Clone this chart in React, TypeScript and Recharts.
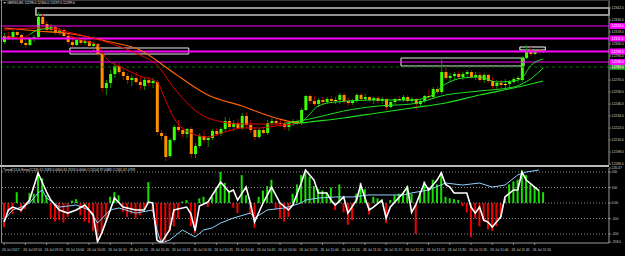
import { ComposedChart, Bar, Line, XAxis, YAxis, ReferenceLine, ReferenceArea } from 'recharts';

const symbol = 'GER30,M1';
const SLOTS = 143; // bars plus the empty shift on the right

// one entry per minute bar: [open, high, low, close]
const candles: number[][] = [
  [12308, 12317, 12306, 12314], [12314, 12318, 12310, 12312], [12312, 12320, 12310, 12318], [12318, 12320, 12312, 12315],
  [12315, 12316, 12305, 12307], [12307, 12312, 12302, 12305], [12305, 12313, 12304, 12311], [12311, 12315, 12308, 12313],
  [12313, 12338, 12312, 12333], [12333, 12336, 12323, 12326], [12326, 12329, 12318, 12320], [12320, 12326, 12318, 12323],
  [12323, 12325, 12315, 12317], [12317, 12322, 12315, 12320], [12320, 12322, 12312, 12314], [12314, 12317, 12306, 12308],
  [12308, 12314, 12303, 12305], [12305, 12312, 12304, 12310], [12310, 12312, 12305, 12307], [12307, 12311, 12305, 12309],
  [12309, 12310, 12302, 12304], [12304, 12308, 12298, 12306], [12306, 12307, 12294, 12296], [12296, 12298, 12258, 12262],
  [12262, 12270, 12255, 12267], [12267, 12280, 12262, 12276], [12276, 12288, 12272, 12284], [12284, 12287, 12275, 12278],
  [12278, 12282, 12270, 12274], [12274, 12277, 12266, 12270], [12270, 12275, 12264, 12272], [12272, 12278, 12266, 12268],
  [12268, 12274, 12260, 12265], [12264, 12272, 12260, 12270], [12270, 12273, 12264, 12267], [12267, 12272, 12262, 12269],
  [12268, 12270, 12215, 12218], [12217, 12220, 12210, 12214], [12214, 12217, 12189, 12193], [12194, 12212, 12192, 12210],
  [12210, 12225, 12208, 12223], [12223, 12230, 12218, 12220], [12220, 12223, 12212, 12216], [12216, 12222, 12212, 12221],
  [12221, 12223, 12192, 12196], [12196, 12207, 12192, 12204], [12204, 12217, 12202, 12214], [12214, 12220, 12207, 12210],
  [12210, 12214, 12203, 12212], [12212, 12221, 12210, 12219], [12219, 12222, 12214, 12216], [12216, 12223, 12214, 12221],
  [12221, 12233, 12219, 12229], [12229, 12232, 12220, 12223], [12223, 12230, 12219, 12227], [12227, 12231, 12220, 12222],
  [12222, 12237, 12220, 12234], [12234, 12237, 12222, 12225], [12225, 12230, 12217, 12220], [12220, 12223, 12210, 12213],
  [12213, 12222, 12211, 12220], [12220, 12223, 12215, 12217], [12217, 12230, 12215, 12227], [12227, 12232, 12223, 12229],
  [12229, 12231, 12224, 12227], [12227, 12230, 12223, 12226], [12226, 12229, 12220, 12223], [12223, 12229, 12219, 12227],
  [12227, 12231, 12224, 12229], [12229, 12231, 12225, 12227], [12227, 12242, 12225, 12240], [12240, 12255, 12239, 12254],
  [12254, 12256, 12246, 12249], [12249, 12254, 12244, 12246], [12246, 12252, 12243, 12250], [12250, 12253, 12245, 12248],
  [12248, 12253, 12246, 12251], [12251, 12254, 12247, 12249], [12249, 12253, 12246, 12250], [12250, 12257, 12246, 12255],
  [12255, 12257, 12246, 12249], [12249, 12252, 12244, 12247], [12247, 12251, 12245, 12249], [12249, 12257, 12247, 12255],
  [12255, 12257, 12249, 12251], [12251, 12256, 12249, 12253], [12253, 12254, 12248, 12250], [12250, 12253, 12246, 12252],
  [12252, 12254, 12247, 12249], [12249, 12253, 12246, 12251], [12251, 12252, 12240, 12243], [12243, 12249, 12242, 12248],
  [12248, 12252, 12246, 12251], [12251, 12254, 12248, 12250], [12250, 12255, 12248, 12253], [12253, 12255, 12247, 12249],
  [12249, 12253, 12247, 12251], [12251, 12252, 12240, 12246], [12246, 12250, 12244, 12249], [12249, 12255, 12247, 12254],
  [12254, 12260, 12251, 12253], [12253, 12263, 12251, 12261], [12261, 12264, 12256, 12258], [12258, 12292, 12256, 12278],
  [12278, 12282, 12270, 12272], [12272, 12277, 12268, 12274], [12274, 12278, 12270, 12276], [12276, 12279, 12271, 12273],
  [12273, 12278, 12270, 12276], [12276, 12280, 12272, 12278], [12278, 12280, 12271, 12273], [12273, 12278, 12270, 12275],
  [12275, 12278, 12268, 12270], [12270, 12277, 12267, 12275], [12275, 12276, 12267, 12269], [12269, 12273, 12261, 12264],
  [12264, 12270, 12260, 12267], [12267, 12270, 12262, 12265], [12265, 12271, 12262, 12266], [12266, 12270, 12263, 12268],
  [12268, 12273, 12266, 12271], [12271, 12274, 12267, 12272], [12270, 12294, 12268, 12292], [12292, 12305, 12291, 12299],
  [12299, 12303, 12294, 12296], [12296, 12301, 12295, 12300], [12300, 12301, 12296, 12298], [12298, 12300, 12297, 12299],
];

// moving averages read at [bar, price]
const fastMa = [
  [0, 12314], [4, 12312], [8, 12320], [12, 12322], [16, 12313], [20, 12308], [22, 12305], [24, 12292],
  [28, 12282], [32, 12274], [36, 12268], [38, 12250], [40, 12232], [44, 12217], [48, 12213], [52, 12218],
  [56, 12222], [60, 12222], [64, 12224], [68, 12226], [70, 12228], [72, 12236], [74, 12244], [78, 12248],
  [88, 12250], [96, 12250], [100, 12253], [104, 12266], [108, 12272], [112, 12273], [116, 12268], [120, 12269],
  [122, 12272], [124, 12284], [127, 12291],
];
const midMa = [
  [0, 12320], [8, 12322], [16, 12317], [24, 12308], [32, 12295], [36, 12285], [40, 12262], [48, 12232],
  [56, 12226], [64, 12226], [68, 12228], [72, 12231], [80, 12239], [88, 12244], [96, 12246], [104, 12255],
  [112, 12259], [120, 12263], [124, 12271], [127, 12282],
];
const slowMa = [
  [0, 12322], [8, 12319], [16, 12316], [24, 12309], [32, 12300], [40, 12277], [48, 12255], [56, 12244],
  [64, 12232], [70, 12227], [72, 12228], [80, 12232], [88, 12237], [96, 12242], [104, 12247], [112, 12255],
  [120, 12262], [127, 12269],
];

// TrendCCI histogram, one per bar
const histValues = [
  -155, -60, -70, 70, -60, -40, 65, 60, 195, 160, 50, -100, -120, -110, -125, -90,
  15, 25, -80, -120, -130, -180, -240, -200, -110, 40, 70, 50, -60, -90, -70, -100,
  -80, -40, 135, -60, -230, -255, -250, -180, -150, -100, 10, 20, -150, -195, 30, 40,
  -25, 40, 100, 200, 130, 70, -30, -65, 180, 50, -70, -160, 40, 80, 110, 150,
  -40, -100, -120, -90, 60, 120, 180, 200, 170, 110, 90, 80, 70, 100, -45, 120,
  -60, -140, -110, 60, 130, 90, -75, 40, 30, 20, -130, 20, 50, 60, 65, 110,
  60, -200, 70, 140, 100, 150, 120, 195, 40, 30, 25, 20, -20, -60, -220, -100,
  -150, -120, -170, -180, -150, -100, 30, 120, 140, 150, 210, 180, 120, 100, 80, 70,
];
// CCI lines read at [bar, value]
const cciFast = [
  [0, -123], [1, -45], [2, -26], [4, -45], [6, 19], [8, 194], [10, 71], [11, 19], [13, -45], [15, -65],
  [17, -45], [19, -13], [21, -77], [22, -250], [23, -194], [25, -45], [26, 32], [28, -26], [31, -45], [33, -45],
  [34, 6], [35, 0], [36, -239], [37, -258], [39, -174], [40, -45], [43, -26], [44, -70], [45, -180], [46, -20],
  [48, 6], [51, 135], [53, 71], [54, 84], [55, 19], [57, 103], [58, 0], [59, -123], [61, 0], [63, 103],
  [65, 0], [67, -45], [68, -13], [70, 129], [71, 213], [73, 148], [74, 65], [76, 65], [77, 19], [78, -13],
  [80, 39], [81, -65], [83, 19], [84, 116], [86, -45], [87, -26], [89, 19], [90, -97], [91, -26], [94, 65],
  [95, 103], [96, -60], [97, -10], [99, 129], [100, 84], [102, 148], [103, 194], [104, 120], [105, 103], [106, 65],
  [108, 65], [109, 65], [110, -26], [111, -65], [112, -26], [113, -110], [114, -123], [115, -155], [117, -90], [118, 39],
  [120, 84], [121, 84], [122, 200], [123, 148], [125, 103], [126, 80],
];
const cciSlow = [
  [0, -110], [2, -45], [4, -26], [6, 0], [8, 65], [9, 84], [10, 32], [13, -26], [17, -13], [20, -45],
  [22, -129], [25, -45], [27, -32], [31, -65], [35, -45], [36, -174], [37, -258], [39, -239], [42, -174], [45, -219],
  [47, -174], [49, -161], [51, -129], [54, -97], [58, -65], [59, -97], [62, -45], [66, -32], [70, 0], [71, 19],
  [74, 32], [78, 39], [82, 39], [86, 52], [90, 52], [94, 52], [96, 65], [100, 84], [104, 129], [108, 116],
  [112, 129], [115, 103], [118, 116], [121, 181], [123, 200], [126, 213],
];

const timeLabels = [
  '26 Jul 2017', '26 Jul 09:50', '26 Jul 09:55', '26 Jul 10:00', '26 Jul 10:05', '26 Jul 10:10', '26 Jul 10:15',
  '26 Jul 10:20', '26 Jul 10:25', '26 Jul 10:30', '26 Jul 10:35', '26 Jul 10:40', '26 Jul 10:45', '26 Jul 10:50',
  '26 Jul 10:55', '26 Jul 11:00', '26 Jul 11:05', '26 Jul 11:10', '26 Jul 11:15', '26 Jul 11:20', '26 Jul 11:25',
  '26 Jul 11:30', '26 Jul 11:35', '26 Jul 11:40', '26 Jul 11:45', '26 Jul 11:50',
];
const priceTicks = [12342, 12330, 12318, 12306, 12294, 12282, 12270, 12258, 12246, 12234, 12222, 12210, 12198, 12186];
const cciTicks = [226.47, 200, 100, 0, -100, -200, -252];
const cciTickLabels = ['226.47', '200', '100', '0.00', '-100', '-200', '-258.0'];
const cciLevels = [200, 100, 0, -100, -200];
const levelPrices = [12324, 12311.5, 12298.5, 12288];
const levelWidths = [1, 2, 2, 1];
const bidPrice = 12283;
const zones = [
  { x1: 8, x2: 142, y1: 12335, y2: 12342, w: 1.5, c: '#c4c4c4' },
  { x1: 16, x2: 43, y1: 12296, y2: 12302, w: 1, c: '#e8e8e8' },
  { x1: 94, x2: 122, y1: 12284, y2: 12292, w: 1, c: '#e8e8e8' },
  { x1: 122, x2: 127, y1: 12300, y2: 12303, w: 1, c: '#ffffff' },
];

const toMap = (pts: number[][]) => new Map(pts.map(([i, v]) => [i, v]));
const fastMap = toMap(fastMa);
const midMap = toMap(midMa);
const slowMap = toMap(slowMa);
const cciFastMap = toMap(cciFast);
const cciSlowMap = toMap(cciSlow);

const rows = Array.from({ length: SLOTS }, (_, i) => {
  const k = candles[i];
  return {
    i,
    hl: k ? [k[2], k[1]] : null,
    o: k?.[0], h: k?.[1], l: k?.[2], c: k?.[3],
    fast: fastMap.get(i) ?? null,
    mid: midMap.get(i) ?? null,
    slow: slowMap.get(i) ?? null,
    hist: histValues[i] ?? null,
    cciF: cciFastMap.get(i) ?? null,
    cciS: cciSlowMap.get(i) ?? null,
  };
});

const last = candles[candles.length - 1];
const LAST = candles.length - 1;
const RED = '#e00000';
const GREEN = '#1fe01f';
const TXT = '#cfcfcf';
const FONT = 'Liberation Sans';

function Candle(props: any) {
  const { x, y, width, height, payload } = props;
  if (!payload || payload.o == null) return null;
  const { o, h, l, c } = payload;
  const top = Math.min(y, y + height);
  const span = Math.abs(height);
  const k = h > l ? span / (h - l) : 0;
  const bTop = top + (h - Math.max(o, c)) * k;
  const bBot = top + (h - Math.min(o, c)) * k;
  const cx = x + width / 2;
  const up = c > o;
  const doji = Math.abs(c - o) <= 1;
  const body = doji ? '#ffff00' : up ? '#3cff00' : '#ff9000';
  const wick = up ? '#0c8c00' : '#b00000';
  return (
    <g>
      <line x1={cx} x2={cx} y1={top} y2={top + span} stroke={wick} strokeWidth={1} />
      <rect x={x} y={bTop} width={width} height={Math.max(1, bBot - bTop)} fill={body} />
    </g>
  );
}

function HistBar(props: any) {
  const { x, y, width, height, payload } = props;
  if (!payload || payload.hist == null) return null;
  const top = Math.min(y, y + height);
  return <rect x={x} y={top} width={width} height={Math.abs(height)} fill={payload.hist >= 0 ? '#16e000' : '#f00000'} />;
}

const PriceTick = ({ x, y, payload }: any) => (
  <g>
    <line x1={x - 2} x2={x} y1={y} y2={y} stroke="#9a9a9a" strokeWidth={0.8} />
    <text x={x + 0.5} y={y + 1.2} fontSize={3.4} fill={TXT} fontFamily={FONT}>{Number(payload.value).toFixed(1)}</text>
  </g>
);

const CciTick = ({ x, y, payload }: any) => {
  const idx = cciTicks.indexOf(payload.value);
  return (
    <g>
      <line x1={x - 2} x2={x} y1={y} y2={y} stroke="#9a9a9a" strokeWidth={0.8} />
      <text x={x + 0.5} y={y + 1.2} fontSize={3.4} fill={TXT} fontFamily={FONT}>{cciTickLabels[idx]}</text>
    </g>
  );
};

const TimeTick = ({ x, y, payload }: any) => {
  const i = payload.value as number;
  if (i % 5 !== 0 || i > LAST) return null;
  return (
    <g>
      <line x1={x} x2={x} y1={y} y2={y + 2} stroke="#9a9a9a" strokeWidth={0.8} />
      <text x={x - 2} y={y + 7.5} fontSize={3.4} fill={TXT} fontFamily={FONT}>{timeLabels[i / 5]}</text>
    </g>
  );
};

const PriceTag = ({ viewBox, value, fill }: any) => {
  if (!viewBox) return null;
  const x = viewBox.x + viewBox.width;
  return (
    <g>
      <rect x={x + 1} y={viewBox.y - 3} width={16} height={6} fill={fill} />
      <text x={x + 2.5} y={viewBox.y + 1.3} fontSize={3.4} fill="#ffffff" fontFamily={FONT}>{value}</text>
    </g>
  );
};

// colour changes of the averages: [bar, colour]
const fastColors: [number, string][] = [[0, RED], [6, GREEN], [11, RED], [68, GREEN]];
const midColors: [number, string][] = [[0, RED], [66, GREEN]];
const slowColors: [number, string][] = [[0, '#ff6400'], [70, GREEN]];

function Grad({ id, parts }: { id: string; parts: [number, string][] }) {
  const stops: any[] = [];
  parts.forEach(([at, col], n) => {
    const end = n + 1 < parts.length ? parts[n + 1][0] : LAST;
    stops.push(<stop key={`${n}a`} offset={at / LAST} stopColor={col} />);
    stops.push(<stop key={`${n}b`} offset={end / LAST} stopColor={col} />);
  });
  return (
    <linearGradient id={id} x1="0" y1="0" x2="1" y2="0">
      {stops}
    </linearGradient>
  );
}

export default function App() {
  return (
    <div style={{ position: 'fixed', left: 0, top: 0, width: 625, height: 256, background: '#000', overflow: 'hidden' }}>
      <div style={{ position: 'absolute', left: 0, top: 0 }}>
        <ComposedChart width={625} height={165} data={rows} margin={{ top: 0, right: 0, bottom: 0, left: 2 }}>
          <defs>
            <Grad id="gFast" parts={fastColors} />
            <Grad id="gMid" parts={midColors} />
            <Grad id="gSlow" parts={slowColors} />
          </defs>
          <XAxis dataKey="i" hide />
          <YAxis
            orientation="right"
            width={16}
            domain={[12185, 12350]}
            ticks={priceTicks}
            interval={0}
            allowDataOverflow
            tickSize={2}
            tickMargin={0}
            tickLine={false}
            axisLine={{ stroke: '#9a9a9a' }}
            tick={(p: any) => <PriceTick {...p} />}
          />
          {zones.map((z, n) => (
            <ReferenceArea key={n} x1={z.x1} x2={z.x2} y1={z.y1} y2={z.y2} fill="none" stroke={z.c} strokeWidth={z.w} />
          ))}
          <ReferenceLine
            y={bidPrice}
            stroke="#0a6a0a"
            strokeDasharray="3 3"
            label={(p: any) => <PriceTag {...p} value={bidPrice.toFixed(1)} fill="#109010" />}
          />
          {levelPrices.map((lv, n) => (
            <ReferenceLine
              key={lv}
              y={lv}
              stroke="#ff00ff"
              strokeWidth={levelWidths[n]}
              label={(p: any) => <PriceTag {...p} value={lv.toFixed(1)} fill="#ff00ff" />}
            />
          ))}
          <Line dataKey="slow" type="monotone" stroke="url(#gSlow)" strokeWidth={1.2} dot={false} connectNulls isAnimationActive={false} />
          <Line dataKey="mid" type="monotone" stroke="url(#gMid)" strokeWidth={1} dot={false} connectNulls isAnimationActive={false} />
          <Bar dataKey="hl" barSize={3} isAnimationActive={false} shape={(p: any) => <Candle {...p} />} />
          <Line dataKey="fast" type="monotone" stroke="url(#gFast)" strokeWidth={1} dot={false} connectNulls isAnimationActive={false} />
        </ComposedChart>
      </div>

      <div style={{ position: 'absolute', left: 0, top: 166 }}>
        <ComposedChart width={625} height={90} data={rows} margin={{ top: 2, right: 0, bottom: 0, left: 2 }}>
          <XAxis
            dataKey="i"
            interval={0}
            height={13}
            tickSize={0}
            tickMargin={0}
            tickLine={false}
            axisLine={{ stroke: '#9a9a9a' }}
            tick={(p: any) => <TimeTick {...p} />}
          />
          <YAxis
            orientation="right"
            width={16}
            domain={[-258, 226]}
            ticks={cciTicks}
            interval={0}
            allowDataOverflow
            tickSize={2}
            tickMargin={0}
            tickLine={false}
            axisLine={{ stroke: '#9a9a9a' }}
            tick={(p: any) => <CciTick {...p} />}
          />
          {cciLevels.map((lv) => (
            <ReferenceLine key={lv} y={lv} stroke="#8a8a8a" strokeDasharray="1 2" />
          ))}
          <Bar dataKey="hist" barSize={2} isAnimationActive={false} shape={(p: any) => <HistBar {...p} />} />
          <Line dataKey="cciS" type="linear" stroke="#8fd3ff" strokeWidth={1} dot={false} connectNulls isAnimationActive={false} />
          <Line dataKey="cciF" type="linear" stroke="#ffffff" strokeWidth={1.6} dot={false} connectNulls isAnimationActive={false} />
        </ComposedChart>
      </div>

      {/* frame lines */}
      <div style={{ position: 'absolute', left: 0, top: 0, width: 609, height: 1, background: '#3a3a3a' }} />
      <div style={{ position: 'absolute', left: 1, top: 0, width: 1, height: 165, background: '#8a8a8a' }} />
      <div style={{ position: 'absolute', left: 1, top: 166, width: 1, height: 77, background: '#8a8a8a' }} />
      <div style={{ position: 'absolute', left: 0, top: 165, width: 609, height: 2, background: '#b8b8b8' }} />

      <div
        style={{
          position: 'absolute', left: 3, top: 1, color: '#e0e0e0', fontFamily: FONT, fontSize: 6,
          whiteSpace: 'nowrap', transform: 'scale(0.55)', transformOrigin: 'left top',
        }}
      >
        ▼ {symbol}  {last.map((v) => v.toFixed(1)).join(' ')}
      </div>
      <div
        style={{
          position: 'absolute', left: 3, top: 167.5, color: '#e0e0e0', fontFamily: FONT, fontSize: 6,
          whiteSpace: 'nowrap', transform: 'scale(0.55)', transformOrigin: 'left top',
        }}
      >
        TrendCCI &amp; EntryCCI(6) 62.1583 0.0000 61.2553 0.0000 CCI(14) 97.0483 CCI(6) 67.4759
      </div>
    </div>
  );
}
